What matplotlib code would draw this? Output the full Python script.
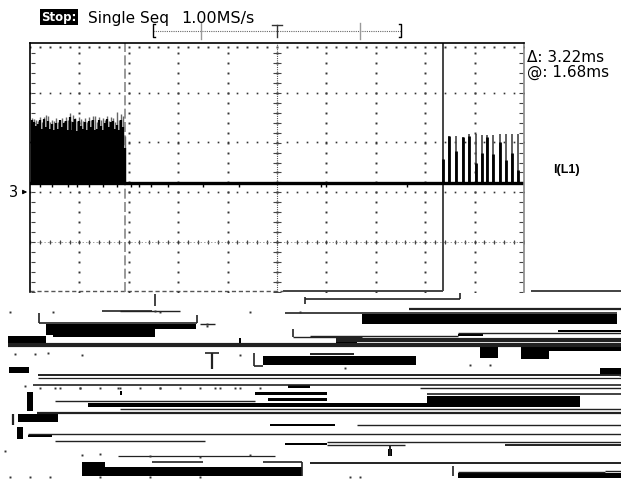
import matplotlib
matplotlib.use("Agg")
import matplotlib.pyplot as plt
import numpy as np
from matplotlib.patches import Rectangle

# burst on the left, time in ms from trigger, height in divisions above the baseline
burst_t = [-2.48, -2.46, -2.44, -2.42, -2.40, -2.38, -2.36, -2.34, -2.32, -2.30, -2.28, -2.26,
           -2.24, -2.22, -2.20, -2.18, -2.16, -2.14, -2.12, -2.10, -2.08, -2.06, -2.04, -2.02,
           -2.00, -1.98, -1.96, -1.94, -1.92, -1.90, -1.88, -1.86, -1.84, -1.82, -1.80, -1.78,
           -1.76, -1.74, -1.72, -1.70, -1.68, -1.66, -1.64, -1.62, -1.60, -1.58, -1.56, -1.54]
burst_peak = [1.30, 1.28, 1.26, 1.24, 1.32, 1.22, 1.33, 1.36, 1.34, 1.22, 1.27, 1.24,
              1.30, 1.22, 1.27, 1.30, 1.25, 1.32, 1.26, 1.40, 1.24, 1.36, 1.30, 1.24,
              1.33, 1.28, 1.24, 1.30, 1.22, 1.32, 1.26, 1.34, 1.35, 1.22, 1.33, 1.26,
              1.30, 1.27, 1.34, 1.24, 1.32, 1.30, 1.22, 1.42, 1.26, 1.39, 1.35, 0.95]
burst_fill = [1.26, 1.22, 1.14, 1.18, 1.26, 1.08, 1.28, 1.12, 1.24, 1.08, 1.18, 1.06,
              1.20, 1.08, 1.26, 1.12, 1.20, 1.24, 1.06, 1.32, 1.06, 1.22, 1.28, 1.04,
              1.24, 1.14, 1.08, 1.22, 1.06, 1.24, 1.12, 1.26, 1.06, 1.08, 1.26, 1.14,
              1.06, 1.20, 1.28, 1.12, 1.22, 1.24, 1.08, 1.16, 1.06, 1.26, 1.12, 0.70]

# pulses on the right
pulse_t = [1.68, 1.74, 1.81, 1.88, 1.94, 2.01, 2.07, 2.13, 2.19, 2.26, 2.32, 2.38, 2.44]
pulse_peak = [0.48, 0.94, 0.94, 0.92, 0.98, 0.98, 0.96, 0.96, 0.96, 0.98, 0.98, 0.98, 0.98]
pulse_dark = [0.48, 0.94, 0.64, 0.92, 0.94, 0.40, 0.60, 0.92, 0.58, 0.82, 0.46, 0.60, 0.26]

cursor_t = [-1.54, 1.68]
# little bumps under the baseline line
blip_t = [-2.40, -2.28, -2.12, -2.02, -1.90, -1.76, -1.62, -1.48, -1.40, -1.28, -1.10, -0.75, -0.38, 0.45, 0.50, 1.32]

# broken lower part of the screenshot, in image pixels: x0, x1, y0, y1
black_rects = [
    (46, 196, 325, 330), (53, 155, 330, 338), (46, 53, 330, 336), (8, 46, 337, 348),
    (362, 617, 315, 325), (458, 483, 335, 337), (558, 621, 331, 333),
    (336, 357, 339, 348), (480, 498, 348, 359), (521, 549, 348, 360), (549, 621, 348, 352),
    (263, 416, 357, 366), (9, 29, 368, 374), (288, 310, 386, 389), (255, 327, 393, 396),
    (268, 327, 399, 402), (88, 427, 404, 408), (427, 580, 397, 408),
    (18, 58, 415, 423), (28, 52, 436, 438), (270, 335, 425, 427), (285, 327, 444, 446),
    (82, 302, 468, 477), (82, 105, 463, 468), (458, 621, 474, 479),
    (27, 33, 393, 412), (17, 23, 428, 440), (388, 392, 450, 457),
    (600, 621, 369, 376), (239, 241, 339, 344), (120, 122, 392, 396),
]
h_lines = [
    (102, 152, 312, 1.2), (39, 197, 324, 1.2), (293, 362, 338, 1.0), (285, 617, 314, 1.2),
    (409, 621, 309.5, 1.6), (305, 460, 300, 1.2), (8, 621, 346, 3.0),
    (310, 458, 337, 1.0), (336, 621, 341, 3.0), (458, 621, 334, 1.0), (310, 354, 355, 1.4),
    (205, 219, 354, 1.2), (254, 263, 367, 1.2), (38, 621, 376, 1.4), (38, 621, 378.5, 0.9),
    (33, 621, 385.5, 1.2), (420, 621, 389, 1.0), (55, 255, 402, 1.0), (427, 621, 395, 1.2),
    (120, 621, 410, 1.0), (37, 621, 413.5, 1.6), (357, 621, 426, 1.0), (28, 621, 435, 1.0),
    (55, 205, 442, 1.0), (327, 621, 443, 1.0), (327, 405, 446, 1.0), (505, 621, 446, 1.4),
    (310, 621, 463.5, 1.4), (118, 275, 457, 0.9), (152, 203, 463, 1.2), (263, 302, 463, 1.2),
    (458, 605, 473, 1.0), (605, 621, 472, 1.0), (283, 443, 292, 1.2), (531, 621, 292, 1.2),
    (200, 215, 325, 1.0), (120, 180, 312, 1.0),
]
v_lines = [
    (154.5, 295, 307, 1.2), (39, 314, 324, 1.2), (197, 316, 324, 1.2), (460, 294, 300, 1.2),
    (305, 298, 305, 1.2), (293, 330, 338, 1.2), (212, 354, 370, 1.6), (254, 354, 367, 1.2),
    (302, 463, 477, 1.2), (453, 467, 477, 1.2), (13, 415, 426, 1.6), (390, 447, 457, 1.4),
]
# leftover specks
speck_x = [10, 53, 155, 160, 207, 250, 300, 15, 35, 48, 82, 240, 207, 25, 55, 80, 118, 160, 215, 235,
           40, 60, 80, 100, 120, 140, 160, 180, 200, 220, 240, 260, 5, 10, 30, 50, 100, 150, 200,
           82, 100, 150, 200, 250, 350, 360, 345, 470, 490, 620]
speck_y = [313, 313, 312, 313, 325, 313, 313, 355, 355, 354, 356, 356, 327, 387, 389, 389, 389, 389, 389, 389,
           389, 389, 389, 389, 389, 389, 389, 389, 389, 389, 389, 389, 452, 478, 478, 478, 478, 478, 478,
           456, 455, 457, 458, 456, 478, 478, 369, 366, 366, 376]


fig = plt.figure(figsize=(6.21, 4.81), dpi=100)
plt.rcParams['font.family'] = 'DejaVu Sans'

bg = fig.add_axes([0, 0, 1, 1])
bg.set_xlim(0, 621)
bg.set_ylim(481, 0)
bg.axis('off')

for x0, x1, y0, y1 in black_rects:
    bg.add_patch(Rectangle((x0, y0), x1 - x0, y1 - y0, color='black', lw=0))
for x0, x1, y, lw in h_lines:
    bg.plot([x0, x1], [y, y], color='#222222', lw=lw, solid_capstyle='butt')
for x, y0, y1, lw in v_lines:
    bg.plot([x, x], [y0, y1], color='#222222', lw=lw, solid_capstyle='butt')
bg.plot(speck_x, speck_y, ls='', marker='s', ms=1.4, color='#333333', mew=0)
bg.plot([30, 283], [292, 292], color='#555555', lw=1.0, ls=(0, (3, 2)))

# scope screen, x in ms, y in divisions
ax = fig.add_axes([30 / 621, (481 - 293) / 481, 494 / 621, 249 / 481])
ax.patch.set_alpha(0)
ax.set_xlim(-2.5, 2.5)
ax.set_ylim(-2.19, 2.81)
ax.set_xticks([])
ax.set_yticks([])
ax.spines['bottom'].set_visible(False)
ax.spines['right'].set_color('#888888')
ax.spines['right'].set_linewidth(1.2)
ax.spines['left'].set_linewidth(1.2)
ax.spines['top'].set_linewidth(1.2)

# graticule
rows = [1.81, 0.82, -0.18, -1.18]
fine_x = np.arange(-2.5, 2.51, 0.1)
fine_y = np.arange(-2.19, 2.81, 0.2)
for r in rows:
    ax.plot(fine_x, [r] * len(fine_x), ls='', marker='s', ms=1.2, color='#333333', mew=0)
ax.plot(fine_x, [2.72] * len(fine_x), ls='', marker='s', ms=1.4, color='#333333', mew=0)
ax.plot(fine_x, [-1.18] * len(fine_x), ls='', marker='|', ms=3.5, color='#444444', mew=0.8)
ax.plot([-2.5, 2.5], [-1.18, -1.18], color='#777777', lw=0.5, ls=(0, (2, 3)))
for c in np.arange(-2.0, 2.01, 0.5):
    ax.plot([c] * len(fine_y), fine_y, ls='', marker='s', ms=1.4, color='#333333', mew=0)
ax.plot([0] * len(fine_y), fine_y, ls='', marker='_', ms=6, color='#444444', mew=0.8)
ax.plot([0, 0], [-2.19, 2.81], color='#555555', lw=0.8, ls=(0, (1, 1)))
ax.plot([2.47] * len(fine_y), fine_y, ls='', marker='_', ms=3, color='#444444', mew=0.8)
ax.plot([-2.47] * len(fine_y), fine_y, ls='', marker='_', ms=3, color='#444444', mew=0.8)

# cursors
ax.axvline(cursor_t[0], color='#888888', lw=1.2, ls=(0, (6, 2)))
ax.plot([cursor_t[1]] * 2, [-2.15, 2.81], color='#444444', lw=1.4)

# trace
ax.vlines(burst_t, 0, burst_peak, color='#666666', lw=1.0)
ax.vlines(burst_t, 0, burst_fill, color='black', lw=1.6)
ax.fill_between([-2.49, -1.55], 0, 1.0, color='black', lw=0)
ax.vlines(pulse_t, 0, pulse_peak, color='#444444', lw=1.2)
ax.vlines(pulse_t, 0, pulse_dark, color='black', lw=2.0)
ax.axhline(0, xmin=0, xmax=1, color='black', lw=2.4)
ax.vlines(blip_t, -0.08, 0, color='black', lw=1.0)

# record view bar above the screen
bg.plot([153, 401], [32, 32], color='#666666', lw=0.8, ls=(0, (1, 1)))
bg.plot([155, 153, 153, 155], [25, 25, 38, 38], color='black', lw=1.0)
bg.plot([399, 401, 401, 399], [25, 25, 38, 38], color='black', lw=1.0)
bg.plot([201, 201], [24, 40], color='#999999', lw=1.0)
bg.plot([360, 360], [24, 40], color='#999999', lw=1.0)
bg.plot([277, 277], [26, 38], color='#333333', lw=1.0)
bg.plot([272, 282], [26, 26], color='#333333', lw=1.0)

bg.text(41, 18, 'Stop:', fontsize=8.5, fontweight='bold', color='white', va='center',
        bbox=dict(facecolor='black', edgecolor='none', pad=1))
bg.text(88, 18, 'Single Seq', fontsize=11, va='center')
bg.text(181, 18, '1.00MS/s', fontsize=11.5, va='center')
bg.text(527, 57, '\u0394: 3.22ms', fontsize=11, va='center')
bg.text(527, 72, '@: 1.68ms', fontsize=11, va='center')
bg.text(553, 170, 'I(L1)', fontsize=9, va='center', family='Liberation Sans', fontweight='bold')
bg.text(9, 193, '3', fontsize=10.5, va='center')
bg.annotate('', xy=(30, 193), xytext=(20, 193), arrowprops=dict(arrowstyle='-|>', lw=0.8, color='black', mutation_scale=6))

fig.savefig('out.png', dpi=100)
